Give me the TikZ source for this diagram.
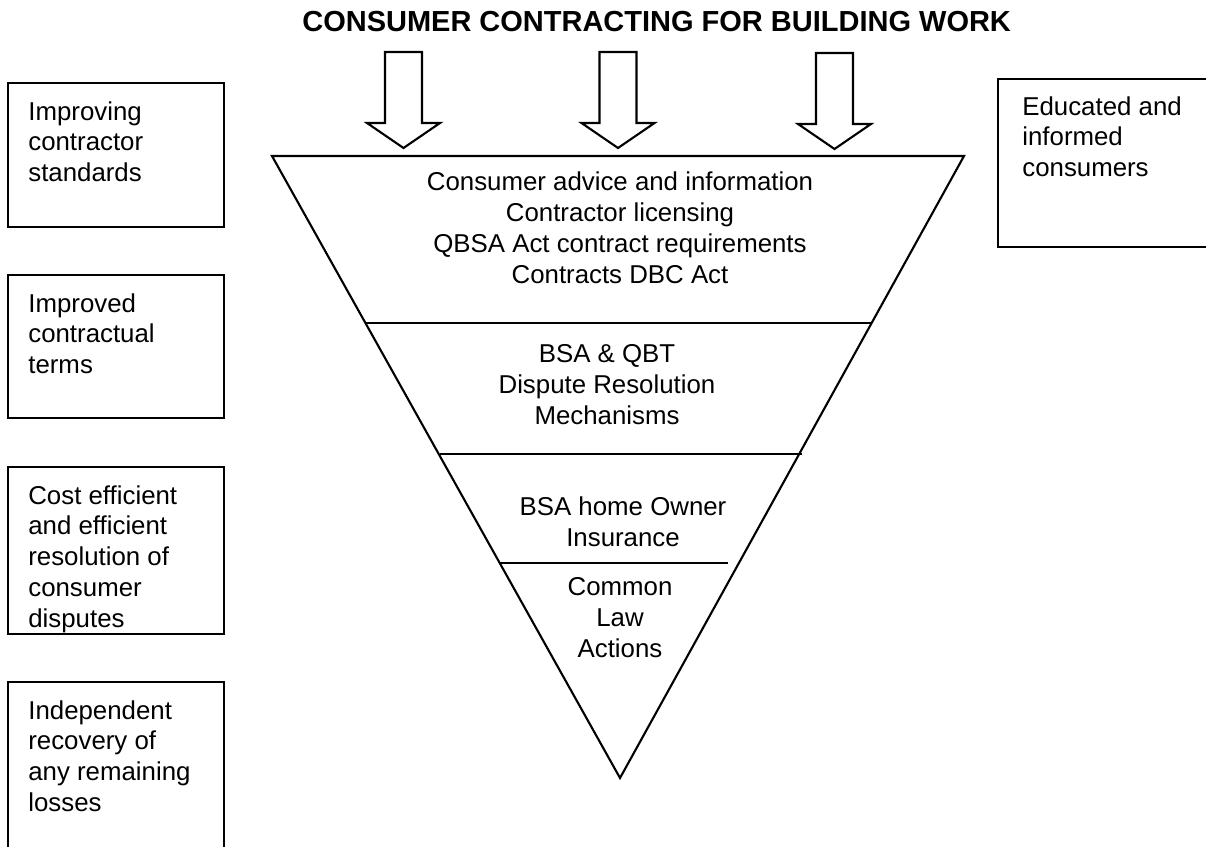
\documentclass[tikz,border=0pt]{standalone}
\usepackage{fontspec}
\setmainfont{Liberation Sans}
\begin{document}
\begin{tikzpicture}[x=0.02cm,y=-0.02cm,
  outline/.style={draw=black, line width=1.2pt, line join=miter},
  boxline/.style={draw=black, line width=1.4pt},
  bodyfont/.style={font=\fontsize{14.7}{17.6}\selectfont},
  boxtext/.style={bodyfont, anchor=north west, inner sep=0pt, align=left},
  tritext/.style={bodyfont, anchor=center, inner sep=0pt, align=center},
  pics/downarrow/.style={code={
    \draw[outline] (-18.5,0) -- (18.5,0) -- (18.5,71) -- (36.5,71) -- (0,96)
      -- (-36.5,71) -- (-18.5,71) -- cycle;}}
]
\useasboundingbox (0,0) rectangle (1206,847);
\clip (0,0) rectangle (1206,847);

% title
\node[anchor=base west, inner sep=0pt, font=\bfseries\fontsize{16.5}{19}\selectfont]
  (title) at (302,32) {CONSUMER CONTRACTING FOR BUILDING WORK};

% three block arrows feeding the funnel
\pic at (403.5,52) {downarrow};
\pic at (618,52) {downarrow};
\pic at (834.5,53) {downarrow};

% inverted triangle with its bands
\coordinate (tl) at (272,156);
\coordinate (tr) at (964,156);
\coordinate (ap) at (620,778);
\draw[outline] (tl) -- (tr) -- (ap) -- cycle;
\coordinate (d1l) at (365,323);  \coordinate (d1r) at (872,323);
\coordinate (d2l) at (440,454);  \coordinate (d2r) at (802,454);
\coordinate (d3l) at (500,563);  \coordinate (d3r) at (728,563);
\draw[outline] (d1l) -- (d1r);
\draw[outline] (d2l) -- (d2r);
\draw[outline] (d3l) -- (d3r);

\node[tritext] (band1) at (620,228) {Consumer advice and information\\Contractor licensing\\QBSA Act contract requirements\\Contracts DBC Act};
\node[tritext] (band2) at (607,385) {BSA \& QBT\\Dispute Resolution\\Mechanisms};
\node[tritext] (band3) at (623,522) {BSA home Owner\\Insurance};
\node[tritext] (band4) at (620,618) {Common\\Law\\Actions};

% outcome boxes on the left
\draw[boxline] (8,83) rectangle (224,227);
\draw[boxline] (8,275) rectangle (224,418);
\draw[boxline] (8,467) rectangle (224,634);
\draw[boxline] (8,870) -- (8,682) -- (224,682) -- (224,870);
\node[boxtext] (out1) at (28,101) {Improving\\contractor\\standards};
\node[boxtext] (out2) at (28,293) {Improved\\contractual\\terms};
\node[boxtext] (out3) at (28,485) {Cost efficient\\and efficient\\resolution of\\consumer\\disputes};
\node[boxtext] (out4) at (28,700) {Independent\\recovery of\\any remaining\\losses};

% outcome box on the right
\draw[boxline] (1230,79) -- (998,79) -- (998,247) -- (1230,247);
\node[boxtext] (out5) at (1022,96) {Educated and\\informed\\consumers};
\end{tikzpicture}
\end{document}
